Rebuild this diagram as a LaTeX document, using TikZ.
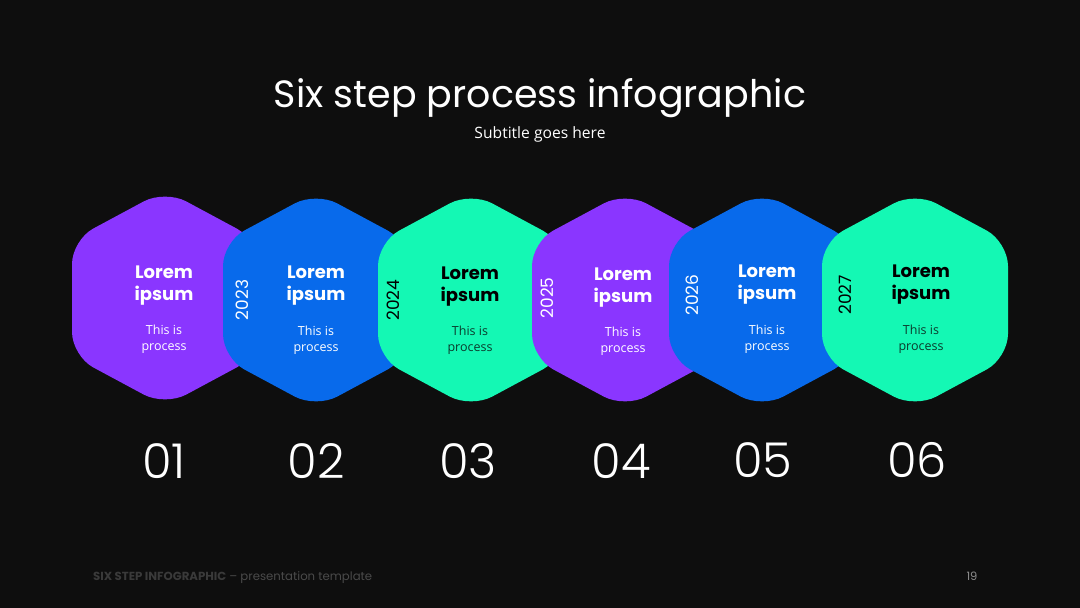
\documentclass[tikz,border=0pt]{standalone}
\usepackage{graphicx}
\usepackage{fontspec}
\setmainfont{Poppins}
\newfontfamily\pop{Poppins}
\newfontfamily\popl{Poppins Light}
\newfontfamily\opens{Open Sans}
\definecolor{bg}{HTML}{0E0E0E}
\definecolor{hpurple}{HTML}{8A36FF}
\definecolor{hblue}{HTML}{086AEB}
\definecolor{hgreen}{HTML}{14F8B4}
\definecolor{gtext}{HTML}{0B3A2C}
\definecolor{footdark}{HTML}{3A3A3A}
\definecolor{footlight}{HTML}{4A4A4A}
\definecolor{pagenum}{HTML}{8C8C8C}
\tikzset{
  hexbox/.style={rounded corners=24pt},
  lorem/.style={align=center, inner sep=0pt, font=\pop\bfseries\fontsize{18}{22}\selectfont},
  desc/.style={align=center, inner sep=0pt, font=\opens\fontsize{12.5}{16}\selectfont},
  year/.style={rotate=90, inner sep=0pt, font=\pop\fontsize{17}{17}\selectfont},
  stepnum/.style={inner sep=0pt, text=white, font=\popl\fontsize{48}{48}\selectfont},
}
\newcommand\drawhex[3]{%
  \fill[hexbox,#1] (#2+93,#3) -- (#2+93,#3+58) -- (#2,#3+108) -- (#2-93,#3+58)
    -- (#2-93,#3-58) -- (#2,#3-108) -- (#2+93,#3-58) -- cycle;}
\begin{document}
\begin{tikzpicture}[x=1pt,y=1pt]
\useasboundingbox (0,0) rectangle (1080,608);
\fill[bg] (0,0) rectangle (1080,608);

\node[text=white, inner sep=0pt] (title) at (540,608-98)
  {\resizebox{532pt}{!}{\pop Six step process infographic}};
\node[text=white, inner sep=0pt] (subtitle) at (540,608-134)
  {\resizebox{131pt}{!}{\opens Subtitle goes here}};

% hex 1
\drawhex{hpurple}{165}{608-298}
\node[lorem, text=white] (l1) at (164,608-286) {Lorem\\ipsum};
\node[desc, text=white] (d1) at (164,608-339) {This is\\process};
% hex 2
\drawhex{hblue}{316}{608-300}
\node[lorem, text=white] (l2) at (316,608-286) {Lorem\\ipsum};
\node[desc, text=white] (d2) at (316,608-340) {This is\\process};
\node[year, text=white] (y1) at (242,608-300) {2023};
% hex 3
\drawhex{hgreen}{471}{608-300}
\node[lorem, text=black] (l3) at (470,608-287) {Lorem\\ipsum};
\node[desc, text=gtext] (d3) at (470,608-340) {This is\\process};
\node[year, text=black] (y2) at (393,608-300) {2024};
% hex 4
\drawhex{hpurple}{625}{608-300}
\node[lorem, text=white] (l4) at (623,608-288) {Lorem\\ipsum};
\node[desc, text=white] (d4) at (623,608-341) {This is\\process};
\node[year, text=white] (y3) at (547,608-298) {2025};
% hex 5
\drawhex{hblue}{762}{608-300}
\node[lorem, text=white] (l5) at (767,608-285) {Lorem\\ipsum};
\node[desc, text=white] (d5) at (767,608-339) {This is\\process};
\node[year, text=white] (y4) at (692,608-295) {2026};
% hex 6
\drawhex{hgreen}{915}{608-300}
\node[lorem, text=black] (l6) at (921,608-285) {Lorem\\ipsum};
\node[desc, text=gtext] (d6) at (921,608-339) {This is\\process};
\node[year, text=black] (y5) at (845,608-295) {2027};

% step numbers
\node[stepnum] (n1) at (164,608-461) {01};
\node[stepnum] (n2) at (316,608-461) {02};
\node[stepnum] (n3) at (468,608-461) {03};
\node[stepnum] (n4) at (621,608-461) {04};
\node[stepnum] (n5) at (763,608-460) {05};
\node[stepnum] (n6) at (917,608-460) {06};

% footer
\node[anchor=west, inner sep=0pt] (footer) at (93,608-578)
  {\resizebox{279pt}{!}{\pop{\bfseries\color{footdark}SIX STEP INFOGRAPHIC} {\color{footlight}– presentation template}}};
\node[inner sep=0pt, text=pagenum, font=\pop\fontsize{11.5}{11.5}\selectfont] (page) at (972,608-576) {19};
\end{tikzpicture}
\end{document}
